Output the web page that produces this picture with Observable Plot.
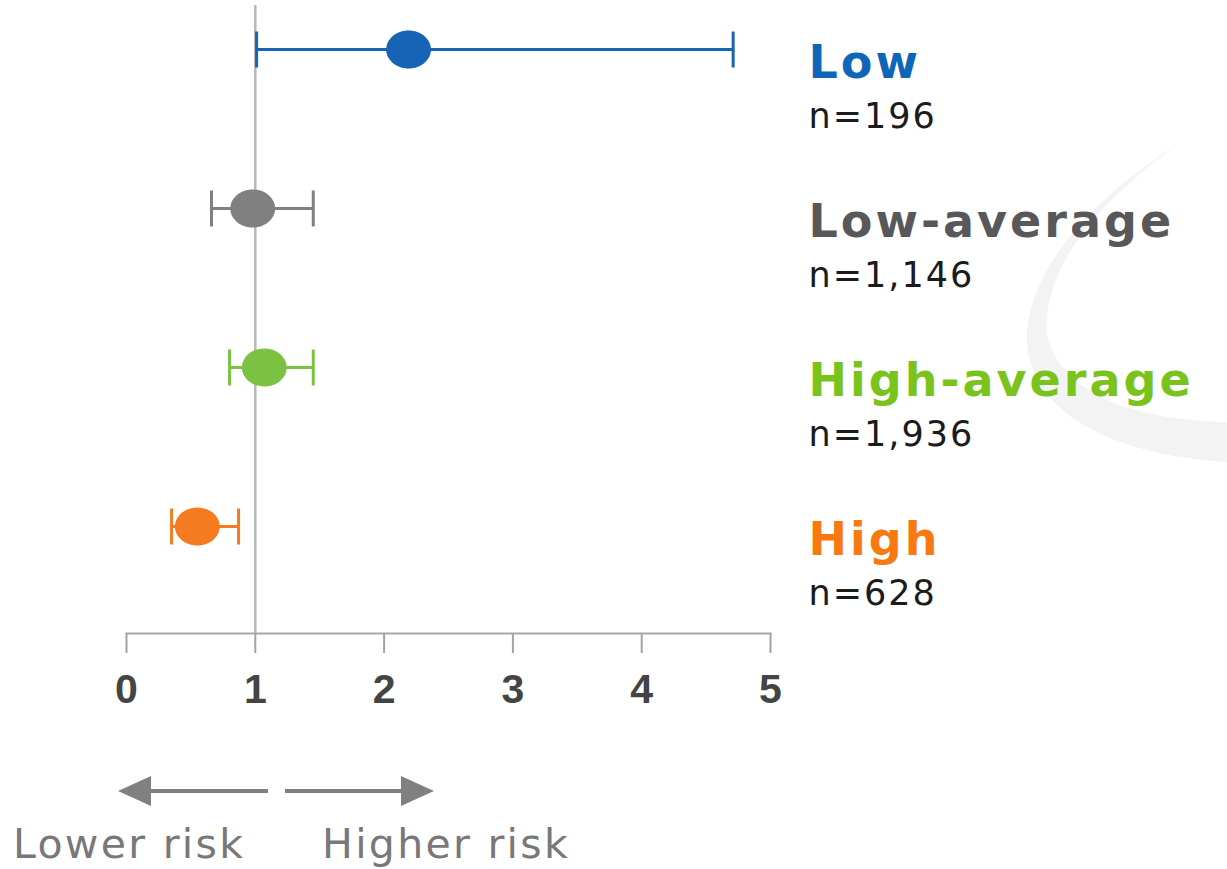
<!DOCTYPE html>
<html>
<head>
<meta charset="utf-8">
<script src="https://cdn.jsdelivr.net/npm/d3@7"></script>
<script src="https://cdn.jsdelivr.net/npm/@observablehq/plot@0.6"></script>
<style>
  html, body { margin: 0; padding: 0; background: #fff; }
  #chart svg { display: block; }
</style>
</head>
<body>
<div id="chart"></div>
<script>
// Odds ratios with confidence intervals by group
const categories = ["Low", "Low-average", "High-average", "High"];
const sampleSizes = ["n=196", "n=1,146", "n=1,936", "n=628"];
const estimates = [2.19, 0.98, 1.07, 0.55];
const lowerBounds = [1.01, 0.66, 0.80, 0.35];
const upperBounds = [4.71, 1.45, 1.45, 0.87];
const xTicks = [0, 1, 2, 3, 4, 5];
const referenceValue = 1;

const markColors = ["#1763b5", "#808080", "#7cc242", "#f47b20"];
const labelColors = ["#0f66b8", "#58585a", "#7ac31c", "#f7790f"];

const rows = categories.map((category, i) => ({
  category,
  n: sampleSizes[i],
  est: estimates[i],
  lo: lowerBounds[i],
  hi: upperBounds[i],
  color: markColors[i],
  labelColor: labelColors[i]
}));

// slightly wide ellipse for the point estimates
const ellipse = {
  draw(ctx, size) {
    const r = Math.sqrt(size / Math.PI), rx = r * 1.12, ry = r * 0.95, k = 0.5523;
    ctx.moveTo(rx, 0);
    ctx.bezierCurveTo(rx, ry * k, rx * k, ry, 0, ry);
    ctx.bezierCurveTo(-rx * k, ry, -rx, ry * k, -rx, 0);
    ctx.bezierCurveTo(-rx, -ry * k, -rx * k, -ry, 0, -ry);
    ctx.bezierCurveTo(rx * k, -ry, rx, -ry * k, rx, 0);
    ctx.closePath();
  }
};

// vertical whisker cap
const cap = {
  draw(ctx, size) {
    const r = Math.sqrt(size / Math.PI);
    ctx.moveTo(0, -r);
    ctx.lineTo(0, r);
  }
};

const plot = Plot.plot({
  width: 1227,
  height: 869,
  marginLeft: 126,
  marginRight: 457,
  marginTop: 5,
  marginBottom: 236,
  style: { fontFamily: "DejaVu Sans", background: "transparent" },
  x: { domain: [0, 5] },
  y: { type: "point", domain: categories, range: [48, 526], padding: 0, axis: null },
  color: { type: "identity" },
  marks: [
    Plot.ruleX([referenceValue], { stroke: "#b8b8b8", strokeWidth: 2.5 }),
    Plot.frame({ anchor: "bottom", stroke: "#a8a8a8", strokeWidth: 2 }),
    Plot.axisX(xTicks, {
      tickSize: 20,
      tickPadding: 20,
      tickFormat: d3.format("d"),
      stroke: "#a3a3a3",
      strokeWidth: 2,
      fill: "#444",
      fontSize: 41,
      fontWeight: "bold",
      fontFamily: "Liberation Sans",
      label: null
    }),
    Plot.ruleY(rows, { y: "category", x1: "lo", x2: "hi", stroke: "color", strokeWidth: 3 }),
    Plot.dot(rows, { x: "lo", y: "category", stroke: "color", symbol: cap, r: 18, strokeWidth: 3 }),
    Plot.dot(rows, { x: "hi", y: "category", stroke: "color", symbol: cap, r: 18, strokeWidth: 3 }),
    Plot.dot(rows, { x: "est", y: "category", fill: "color", symbol: ellipse, r: 20 }),
    Plot.text(rows, {
      y: "category", text: "category", frameAnchor: "right", textAnchor: "start",
      dx: 38, dy: 14, fill: "labelColor", fontSize: 46, fontWeight: "bold", fontFamily: "DejaVu Sans",
      className: "group-label"
    }),
    Plot.text(rows, {
      y: "category", text: "n", frameAnchor: "right", textAnchor: "start",
      dx: 38, dy: 67, fill: "#1b1b1b", fontSize: 35, fontFamily: "DejaVu Sans",
      className: "group-n"
    })
  ]
});

document.getElementById("chart").append(plot);

const svg = d3.select(plot);

// wider tracking on the right-hand labels
svg.selectAll(".group-label").attr("letter-spacing", 3);
svg.selectAll(".group-n").attr("letter-spacing", 2);

// decorative swoosh behind the labels
svg.insert("path", ":first-child")
  .attr("d", "M1180,143 C1120,180 1035,250 1027,330 C1022,410 1110,455 1227,462 L1227,422 C1130,420 1060,392 1047,335 C1041,262 1110,192 1180,143 Z")
  .attr("fill", "#f3f3f3");
svg.insert("rect", ":first-child")
  .attr("width", 1227).attr("height", 869).attr("fill", "#fff");

// direction arrows under the axis
const g = svg.append("g").attr("fill", "#808080").attr("stroke", "#808080");
const ay = 791;
g.append("line").attr("x1", 268).attr("x2", 148).attr("y1", ay).attr("y2", ay).attr("stroke-width", 4);
g.append("path").attr("d", `M118,${ay} L151,${ay - 15} L151,${ay + 15} Z`).attr("stroke", "none");
g.append("line").attr("x1", 285).attr("x2", 404).attr("y1", ay).attr("y2", ay).attr("stroke-width", 4);
g.append("path").attr("d", `M434,${ay} L401,${ay - 15} L401,${ay + 15} Z`).attr("stroke", "none");

const t = svg.append("g")
  .attr("fill", "#787878")
  .attr("font-family", "DejaVu Sans")
  .attr("font-size", 41)
  .attr("text-anchor", "start")
  .attr("letter-spacing", 2.3);
t.append("text").attr("x", 13).attr("y", 858).text("Lower risk");
t.append("text").attr("x", 322).attr("y", 858).text("Higher risk");
</script>
</body>
</html>
